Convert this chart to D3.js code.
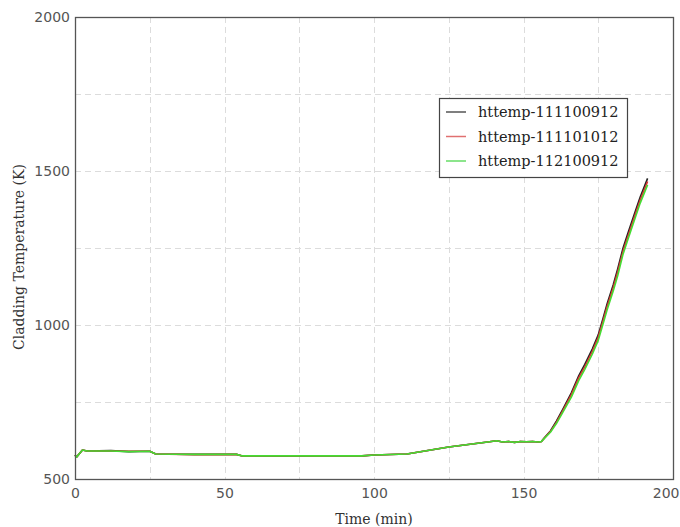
<!DOCTYPE html>
<html>
<head>
<meta charset="utf-8">
<script src="https://cdn.jsdelivr.net/npm/d3@7"></script>
<style>
  html, body { margin: 0; padding: 0; background: #fff; }
  svg { display: block; }
</style>
</head>
<body>
<svg id="chart" width="680" height="527"></svg>
<script>
// Time axis samples (min)
const times = [0, 0.5, 2.5, 4, 12, 18, 25, 27, 40, 54, 56, 70, 80, 96, 100, 111, 125, 138, 141, 143, 145, 147, 149, 151, 153, 155, 156,
  157, 159, 161, 163, 166, 168.5, 170.5, 173, 175, 176.5, 178, 180, 181.5, 183.3, 185, 187, 189, 191.5];

// Cladding temperature (K) for each case
const httemp111100912 = [578, 571, 594, 591, 592, 589, 590, 581, 580, 580, 575, 574, 575, 575, 578, 581, 604, 620, 624, 620, 622, 619, 622, 621, 622, 620, 622,
  634, 656, 688, 724, 780, 836, 872, 922, 968, 1018, 1070, 1130, 1182, 1250, 1300, 1358, 1415, 1476];
const httemp111101012 = [578, 571, 594, 591, 591, 590, 590, 581, 579, 580, 575, 575, 575, 575, 578, 581, 604, 620, 624, 620, 622, 619, 622, 621, 622, 620, 622,
  633, 654, 684, 719, 774, 829, 864, 914, 960, 1010, 1061, 1121, 1172, 1240, 1290, 1348, 1405, 1466];
const httemp112100912 = [578, 571, 594, 591, 591, 589, 590, 581, 580, 580, 575, 575, 575, 575, 578, 581, 604, 620, 624, 620, 622, 619, 622, 621, 622, 620, 622,
  632, 652, 680, 714, 766, 820, 856, 905, 950, 1000, 1050, 1110, 1160, 1230, 1280, 1338, 1395, 1455];

const seriesNames = ["httemp-111100912", "httemp-111101012", "httemp-112100912"];
const seriesValues = [httemp111100912, httemp111101012, httemp112100912];
const seriesColors = ["#222222", "#dd3333", "#44dd33"];
const legendColors = ["#555555", "#e07070", "#66dd66"];

const xTicks = [0, 50, 100, 150, 200];
const yTicks = [500, 1000, 1500, 2000];
const xGrid = [25, 50, 75, 100, 125, 150, 175];
const yGrid = [750, 1000, 1250, 1500, 1750];

const svg = d3.select("#chart");
const plotLeft = 75, plotRight = 673, plotTop = 17, plotBottom = 479;

const x = d3.scaleLinear().domain([0, 200]).range([plotLeft, plotRight]);
const y = d3.scaleLinear().domain([500, 2000]).range([plotBottom, plotTop]);

// dashed grid
const grid = svg.append("g").attr("stroke", "#dcdcdc").attr("stroke-width", 1).attr("stroke-dasharray", "6,4");
grid.selectAll("line.gx").data(xGrid).join("line")
  .attr("x1", d => Math.round(x(d)) + 0.5).attr("x2", d => Math.round(x(d)) + 0.5)
  .attr("y1", plotTop).attr("y2", plotBottom);
grid.selectAll("line.gy").data(yGrid).join("line")
  .attr("y1", d => Math.round(y(d)) + 0.5).attr("y2", d => Math.round(y(d)) + 0.5)
  .attr("x1", plotLeft).attr("x2", plotRight);

// curves
const line = d3.line().x((d, i) => x(times[i])).y(d => y(d));
seriesValues.forEach((vals, k) => {
  svg.append("path").datum(vals)
    .attr("fill", "none")
    .attr("stroke", seriesColors[k])
    .attr("stroke-width", 1.6)
    .attr("stroke-linejoin", "round")
    .attr("d", line);
});

// frame
svg.append("rect")
  .attr("x", plotLeft + 0.5).attr("y", plotTop + 0.5)
  .attr("width", plotRight - plotLeft).attr("height", plotBottom - plotTop)
  .attr("fill", "none").attr("stroke", "#555").attr("stroke-width", 1.3);

// axes (labels only, frame drawn above)
const xAxis = svg.append("g").attr("transform", `translate(0,${plotBottom})`)
  .call(d3.axisBottom(x).tickValues(xTicks).tickSize(0).tickPadding(9).tickFormat(d3.format("d")));
const yAxis = svg.append("g").attr("transform", `translate(${plotLeft},0)`)
  .call(d3.axisLeft(y).tickValues(yTicks).tickSize(0).tickPadding(5).tickFormat(d3.format("d")));
[xAxis, yAxis].forEach(a => {
  a.select(".domain").remove();
  a.selectAll("text").attr("font-family", "DejaVu Sans, sans-serif").attr("font-size", 14).attr("fill", "#555");
});
// keep the last x label inside the canvas edge
xAxis.selectAll(".tick").filter(d => d === 200).select("text")
  .attr("text-anchor", "end").attr("x", 679 - plotRight);

// axis titles
svg.append("text").attr("x", x(100)).attr("y", 524)
  .attr("text-anchor", "middle").attr("font-family", "DejaVu Serif, serif").attr("font-size", 14).attr("fill", "#333")
  .text("Time (min)");
svg.append("text").attr("transform", `translate(24,${(plotTop + plotBottom) / 2 + 9}) rotate(-90)`)
  .attr("text-anchor", "middle").attr("font-family", "DejaVu Serif, serif").attr("font-size", 14).attr("fill", "#333")
  .text("Cladding Temperature (K)");

// legend
const lg = svg.append("g").attr("transform", "translate(439,98)");
lg.append("rect").attr("x", 0.5).attr("y", 0.5).attr("width", 188).attr("height", 79)
  .attr("fill", "#fff").attr("stroke", "#444").attr("stroke-width", 1.2);
seriesNames.forEach((name, k) => {
  const yy = 14 + k * 24.5;
  lg.append("line").attr("x1", 7).attr("x2", 27).attr("y1", yy).attr("y2", yy)
    .attr("stroke", legendColors[k]).attr("stroke-width", 1.5);
  lg.append("text").attr("x", 39).attr("y", yy + 5)
    .attr("font-family", "DejaVu Serif, serif").attr("font-size", 14.5).attr("fill", "#222")
    .text(name);
});
</script>
</body>
</html>
